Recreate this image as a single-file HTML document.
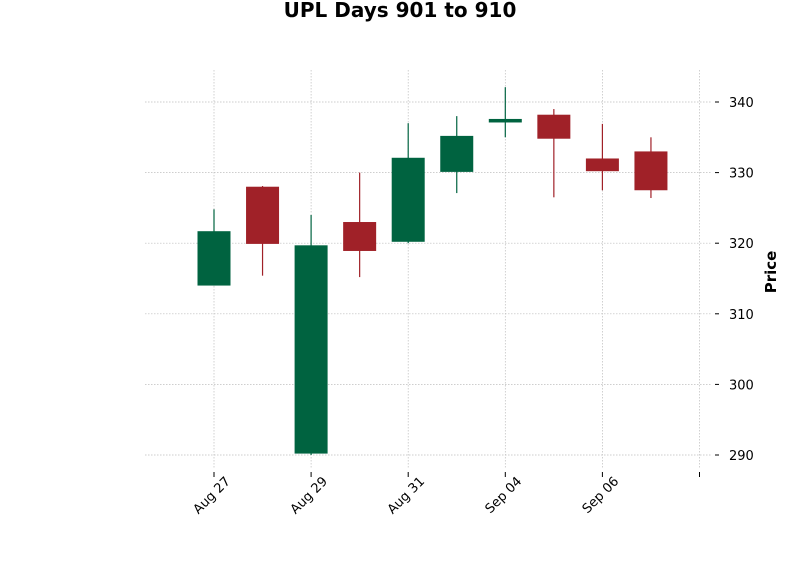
<!DOCTYPE html>
<html><head><meta charset="utf-8"><style>
body{margin:0;background:#fff;font-family:"Liberation Sans","DejaVu Sans",sans-serif;}
svg text{font-family:"DejaVu Sans","Liberation Sans",sans-serif;}
</style></head><body>
<svg id="chart" width="800" height="575" xmlns="http://www.w3.org/2000/svg">
<text x="400" y="17" text-anchor="middle" font-size="20" font-weight="bold">UPL Days 901 to 910</text>
<g id="grid"></g><g id="candles"></g><g id="axes"></g>
<text transform="translate(776,272) rotate(-90)" text-anchor="middle" font-size="15" font-weight="bold">Price</text>
</svg>
<script>
const opens  = [314.0, 328.0, 290.2, 323.0, 320.2, 330.1, 337.1, 338.2, 332.0, 333.0];
const closes = [321.7, 319.9, 319.7, 318.9, 332.1, 335.2, 337.6, 334.8, 330.2, 327.5];
const highs  = [324.8, 328.1, 324.0, 330.0, 337.0, 338.0, 342.1, 339.0, 336.9, 335.0];
const lows   = [314.0, 315.4, 290.0, 315.2, 320.0, 327.1, 335.0, 326.5, 327.5, 326.4];
const xTickIdx = [0, 2, 4, 6, 8, 10];
const xTickLabels = ["Aug 27", "Aug 29", "Aug 31", "Sep 04", "Sep 06", ""];
const yTicks = [290, 300, 310, 320, 330, 340];

const NS = "http://www.w3.org/2000/svg";
const X = i => 214 + i * 48.55;
const Y = v => 455 - (v - 290) * 7.06;
const L = 145, R = 712, T = 70, B = 468;
function mk(tag, attrs, parent) {
  const e = document.createElementNS(NS, tag);
  for (const k in attrs) e.setAttribute(k, attrs[k]);
  document.getElementById(parent).appendChild(e);
  return e;
}
yTicks.forEach(v => {
  const g = mk("line", {x1: L, x2: R, y1: Y(v), y2: Y(v), stroke: "#bdbdbd", "stroke-width": 0.7, "stroke-dasharray": "1.5,1.5"}, "grid");
  
  
  const t = mk("line", {x1: R + 3, x2: R + 7, y1: Y(v), y2: Y(v), stroke: "#000", "stroke-width": 1}, "axes");
  
  
  const tx = mk("text", {x: 729, y: Y(v) + 5, "font-size": 13}, "axes");
  
  
  tx.textContent = v;
});
xTickIdx.forEach((idx, k) => {
  const x = X(idx);
  const g = mk("line", {x1: x, x2: x, y1: T, y2: B, stroke: "#bdbdbd", "stroke-width": 0.7, "stroke-dasharray": "1.5,1.5"}, "grid");
  
  
  const t = mk("line", {x1: x, x2: x, y1: B + 4, y2: B + 9, stroke: "#000", "stroke-width": 1}, "axes");
  
  
  const ax = x + 17, ay = B + 14;
  const tx = mk("text", {x: ax, y: ay, "font-size": 13, "text-anchor": "end", transform: `rotate(-45 ${ax} ${ay})`}, "axes");
  
  
  tx.textContent = xTickLabels[k];
});
opens.forEach((o, i) => {
  const c = closes[i], up = c >= o, col = up ? "#006340" : "#a02128";
  const x = X(i);
  const w = mk("line", {x1: x, x2: x, y1: Y(highs[i]), y2: Y(lows[i]), stroke: col, "stroke-width": 1.2}, "candles");
  
  
  const top = Y(Math.max(o, c)), bot = Y(Math.min(o, c));
  const b = mk("rect", {x: x - 16.5, y: top, width: 33, height: Math.max(bot - top, 1.5), fill: col}, "candles");
  
  
});
</script>
</body></html>
